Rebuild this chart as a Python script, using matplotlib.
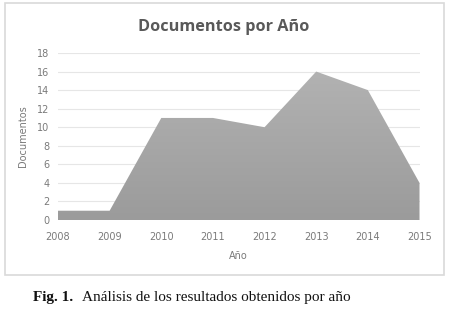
import matplotlib
matplotlib.use("Agg")
import matplotlib.pyplot as plt
import numpy as np
from matplotlib.patches import Rectangle
from matplotlib.colors import LinearSegmentedColormap

years = [2008, 2009, 2010, 2011, 2012, 2013, 2014, 2015]
docs = [1, 1, 11, 11, 10, 16, 14, 4]
yticks = [0, 2, 4, 6, 8, 10, 12, 14, 16, 18]

W, H = 450, 311
fig = plt.figure(figsize=(W/100, H/100), dpi=100)
fig.patch.set_facecolor("white")

# chart border
fig.add_artist(Rectangle((5/W, 1-275/H), 439/W, 272/H, transform=fig.transFigure,
                         fill=False, edgecolor="#d9d9d9", linewidth=1.2))

ax = fig.add_axes([58/W, 1-220/H, 361.5/W, 167/H])
ax.set_xlim(years[0], years[-1])
ax.set_ylim(0, 18)
ax.set_yticks(yticks)
ax.set_xticks(years)
ax.grid(axis="y", color="#e6e6e6", linewidth=0.8)
ax.set_axisbelow(True)
for s in ax.spines.values():
    s.set_visible(False)
ax.tick_params(length=0, labelsize=7, colors="#7a7a7a")
ax.tick_params(axis="x", pad=9)
ax.tick_params(axis="y", pad=6)

poly = ax.fill_between(years, docs, 0, facecolor="none", edgecolor="none")
grad = np.linspace(0, 1, 256).reshape(-1, 1)
cmap = LinearSegmentedColormap.from_list("g", ["#9b9b9b", "#b2b2b2"])
im = ax.imshow(grad, cmap=cmap, aspect="auto", origin="lower",
               extent=[years[0], years[-1], 0, max(docs)], zorder=2)
im.set_clip_path(poly.get_paths()[0], transform=ax.transData)
ax.set_xlim(years[0], years[-1])
ax.set_ylim(0, 18)

ax.set_xlabel("Año", fontsize=7, color="#7a7a7a", labelpad=6)
ax.set_ylabel("Documentos", fontsize=7, color="#7a7a7a", labelpad=7)

fig.text(224/W, 1-27/H, "Documentos por Año", ha="center", va="center",
         fontsize=11.7, fontweight="bold", color="#595959", family="Open Sans")

fig.text(33/W, 1-297/H, "Fig. 1.", ha="left", va="center", fontsize=11,
         fontweight="bold", family="Liberation Serif", color="#111111")
fig.text(82/W, 1-297/H, "Análisis de los resultados obtenidos por año", ha="left",
         va="center", fontsize=11, family="Liberation Serif", color="#111111")

fig.savefig("out.png", dpi=100)
